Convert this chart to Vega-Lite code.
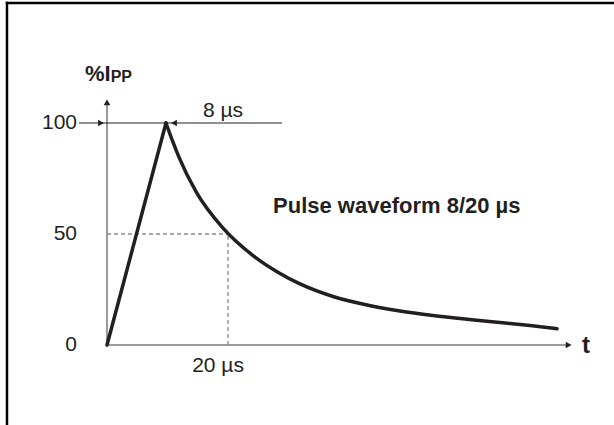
{
  "$schema": "https://vega.github.io/schema/vega-lite/v6.json",
  "width": 614,
  "height": 425,
  "autosize": "none",
  "padding": 0,
  "background": "white",
  "config": {"view": {"stroke": null}},
  "datasets": {
    "border": [
      {"x": -16.53, "y": -36.04, "x2": -16.53, "y2": 154.05},
      {"x": -16.53, "y": 154.05, "x2": 83.8, "y2": 154.05}
    ],
    "axes": [
      {"x": 0, "y": 0, "x2": 0, "y2": 110},
      {"x": 0, "y": 0, "x2": 76, "y2": 0}
    ],
    "refline": [{"x": -4.63, "y": 100, "x2": 28.93, "y2": 100}],
    "dashed": [
      {"x": 0, "y": 50, "x2": 20, "y2": 50},
      {"x": 20, "y": 0, "x2": 20, "y2": 50}
    ],
    "arrowUp": [{"x": 0, "y": 109.3}],
    "arrowRight": [{"x": 76.3, "y": 0}, {"x": -0.99, "y": 100}],
    "arrowLeft": [{"x": 11.07, "y": 100}],
    "rise": [{"x": 0, "y": 0}, {"x": 9.75, "y": 100}],
    "decay": [
      {"x": 9.75, "y": 100},
      {"x": 10.83, "y": 91.9},
      {"x": 11.82, "y": 85.1},
      {"x": 14.83, "y": 68.5},
      {"x": 18.96, "y": 53.3},
      {"x": 24.46, "y": 39.6},
      {"x": 28.1, "y": 33.0},
      {"x": 31.9, "y": 27.5},
      {"x": 37.36, "y": 21.85},
      {"x": 42.98, "y": 18.02},
      {"x": 48.43, "y": 15.32},
      {"x": 53.88, "y": 13.29},
      {"x": 59.5, "y": 11.58},
      {"x": 64.96, "y": 10.09},
      {"x": 69.92, "y": 8.74},
      {"x": 74.38, "y": 7.34}
    ],
    "ticks": [
      {"x": -4.96, "y": 100, "label": "100"},
      {"x": -4.96, "y": 50, "label": "50"},
      {"x": -4.96, "y": 0, "label": "0"}
    ],
    "centerLabels": [
      {"x": 19.17, "y": 102.7, "label": "8 µs"},
      {"x": 18.35, "y": -12.16, "label": "20 µs"}
    ],
    "ylabelMain": [{"x": -3.64, "y": 118.9, "label": "%I"}],
    "ylabelSub": [{"x": 0.6, "y": 118.5, "label": "PP"}],
    "title": [{"x": 27.44, "y": 59.5, "label": "Pulse waveform 8/20 µs"}],
    "tlabel": [{"x": 78.5, "y": -3.6, "label": "t"}]
  },
  "encoding": {
    "x": {"field": "x", "type": "quantitative", "scale": {"domain": [-17.686, 83.8], "nice": false, "zero": false}, "axis": null},
    "y": {"field": "y", "type": "quantitative", "scale": {"domain": [-36.04, 155.41], "nice": false, "zero": false}, "axis": null}
  },
  "layer": [
    {"data": {"name": "border"}, "mark": {"type": "rule", "color": "#000000", "strokeWidth": 2.5, "strokeCap": "square"}, "encoding": {"x2": {"field": "x2"}, "y2": {"field": "y2"}}},
    {"data": {"name": "axes"}, "mark": {"type": "rule", "color": "#7a7a7a", "strokeWidth": 1.5}, "encoding": {"x2": {"field": "x2"}, "y2": {"field": "y2"}}},
    {"data": {"name": "refline"}, "mark": {"type": "rule", "color": "#231f20", "strokeWidth": 1}, "encoding": {"x2": {"field": "x2"}, "y2": {"field": "y2"}}},
    {"data": {"name": "dashed"}, "mark": {"type": "rule", "color": "#8a8a8a", "strokeWidth": 1.3, "strokeDash": [4, 3]}, "encoding": {"x2": {"field": "x2"}, "y2": {"field": "y2"}}},
    {"data": {"name": "arrowUp"}, "mark": {"type": "point", "shape": "triangle-up", "filled": true, "color": "#231f20", "opacity": 1, "size": 45}},
    {"data": {"name": "arrowRight"}, "mark": {"type": "point", "shape": "triangle-right", "filled": true, "color": "#231f20", "opacity": 1, "size": 45}},
    {"data": {"name": "arrowLeft"}, "mark": {"type": "point", "shape": "triangle-left", "filled": true, "color": "#231f20", "opacity": 1, "size": 45}},
    {"data": {"name": "rise"}, "mark": {"type": "line", "color": "#231f20", "strokeWidth": 3.5, "strokeCap": "round"}},
    {"data": {"name": "decay"}, "mark": {"type": "line", "color": "#231f20", "strokeWidth": 3.5, "strokeCap": "round", "interpolate": "monotone"}},
    {"data": {"name": "ticks"}, "mark": {"type": "text", "align": "right", "baseline": "middle", "font": "Liberation Sans", "fontSize": 21, "color": "#231f20"}, "encoding": {"text": {"field": "label"}}},
    {"data": {"name": "centerLabels"}, "mark": {"type": "text", "align": "center", "baseline": "alphabetic", "font": "Liberation Sans", "fontSize": 21, "color": "#231f20"}, "encoding": {"text": {"field": "label"}}},
    {"data": {"name": "ylabelMain"}, "mark": {"type": "text", "align": "left", "baseline": "alphabetic", "font": "Liberation Sans", "fontWeight": "bold", "fontSize": 22, "color": "#231f20"}, "encoding": {"text": {"field": "label"}}},
    {"data": {"name": "ylabelSub"}, "mark": {"type": "text", "align": "left", "baseline": "alphabetic", "font": "Liberation Sans", "fontWeight": "bold", "fontSize": 16, "color": "#231f20"}, "encoding": {"text": {"field": "label"}}},
    {"data": {"name": "title"}, "mark": {"type": "text", "align": "left", "baseline": "alphabetic", "font": "Liberation Sans", "fontWeight": "bold", "fontSize": 22, "color": "#231f20"}, "encoding": {"text": {"field": "label"}}},
    {"data": {"name": "tlabel"}, "mark": {"type": "text", "align": "left", "baseline": "alphabetic", "font": "Liberation Sans", "fontWeight": "bold", "fontSize": 24, "color": "#231f20"}, "encoding": {"text": {"field": "label"}}}
  ]
}
